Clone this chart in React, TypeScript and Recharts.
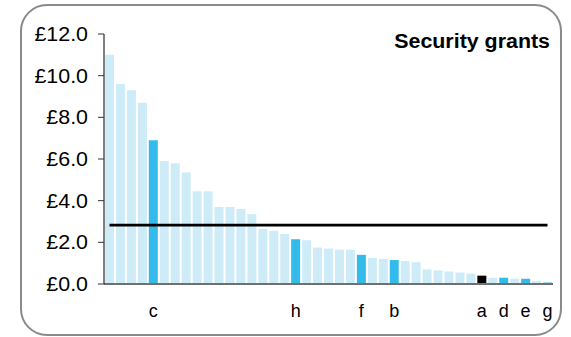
import React from "react";
import { ComposedChart, Bar, Line, XAxis, YAxis, Cell } from "recharts";

const labels = ["", "", "", "", "c", "", "", "", "", "", "", "", "", "", "", "", "", "h", "", "", "", "", "", "f", "", "", "b", "", "", "", "", "", "", "", "a", "", "d", "", "e", "", "g"];
const values = [11.0, 9.6, 9.3, 8.7, 6.9, 5.9, 5.8, 5.35, 4.45, 4.45, 3.7, 3.7, 3.6, 3.35, 2.65, 2.55, 2.4, 2.15, 2.1, 1.75, 1.7, 1.65, 1.65, 1.4, 1.25, 1.2, 1.15, 1.1, 1.05, 0.7, 0.65, 0.6, 0.55, 0.5, 0.4, 0.3, 0.3, 0.25, 0.25, 0.15, 0.07];
// highlight kind: 0 = light, 1 = blue, 2 = black
const highlight = [0, 0, 0, 0, 1, 0, 0, 0, 0, 0, 0, 0, 0, 0, 0, 0, 0, 1, 0, 0, 0, 0, 0, 1, 0, 0, 1, 0, 0, 0, 0, 0, 0, 0, 2, 0, 1, 0, 1, 0, 1];
const averageValue = 2.83;
const yTicks = [0, 2, 4, 6, 8, 10, 12];
const title = "Security grants";

const colors = ["#cdecf8", "#35bbea", "#000000"];
const FONT = "'Liberation Sans', Arial, sans-serif";
const STRETCH = 1.07;

const data = values.map((v, i) => ({ key: i, name: labels[i], value: v, avg: averageValue }));

function YTick(props: any) {
  const { x, y, payload } = props;
  const tx = x;
  return (
    <text
      x={tx}
      y={y}
      dy="0.355em"
      textAnchor="end"
      fill="#000"
      fontSize={20}
      fontFamily={FONT}
      transform={`translate(${tx},0) scale(${STRETCH},1) translate(${-tx},0)`}
    >
      {"£" + Number(payload.value).toFixed(1)}
    </text>
  );
}

export default function App() {
  return (
    <div style={{ position: "absolute", left: 0, top: 0, width: 571, height: 337, background: "#fff", fontFamily: FONT }}>
      <div
        style={{
          position: "absolute",
          left: 20,
          top: 4,
          width: 542,
          height: 332,
          boxSizing: "border-box",
          border: "2px solid #8a8a8a",
          borderRadius: 27,
        }}
      />
      <ComposedChart width={571} height={337} data={data} margin={{ top: 34, right: 18, left: 0, bottom: 0 }}>
        <XAxis
          dataKey="key"
          tickFormatter={(v: number) => labels[v]}
          interval={0}
          tickLine={false}
          tickSize={0}
          tickMargin={20}
          height={53}
          axisLine={{ stroke: "#707070", strokeWidth: 2 }}
          tick={{ fill: "#000", fontSize: 18, fontFamily: FONT }}
        />
        <YAxis
          width={104}
          domain={[0, 12]}
          ticks={yTicks}
          interval={0}
          tickSize={6}
          tickMargin={10}
          axisLine={{ stroke: "#000" }}
          tickLine={{ stroke: "#333" }}
          tick={<YTick />}
        />
        <Bar dataKey="value" barSize={9} isAnimationActive={false}>
          {data.map((d, i) => (
            <Cell key={i} fill={colors[highlight[i]]} />
          ))}
        </Bar>
        <Line dataKey="avg" stroke="#000" strokeWidth={2.8} dot={false} isAnimationActive={false} />
      </ComposedChart>
      <svg width={571} height={337} style={{ position: "absolute", left: 0, top: 0, pointerEvents: "none" }}>
        <text
          x={550}
          y={48.5}
          textAnchor="end"
          fontSize={20}
          fontWeight="bold"
          fontFamily={FONT}
          fill="#000"
          transform={`translate(550,0) scale(${STRETCH},1) translate(-550,0)`}
        >
          {title}
        </text>
      </svg>
    </div>
  );
}
